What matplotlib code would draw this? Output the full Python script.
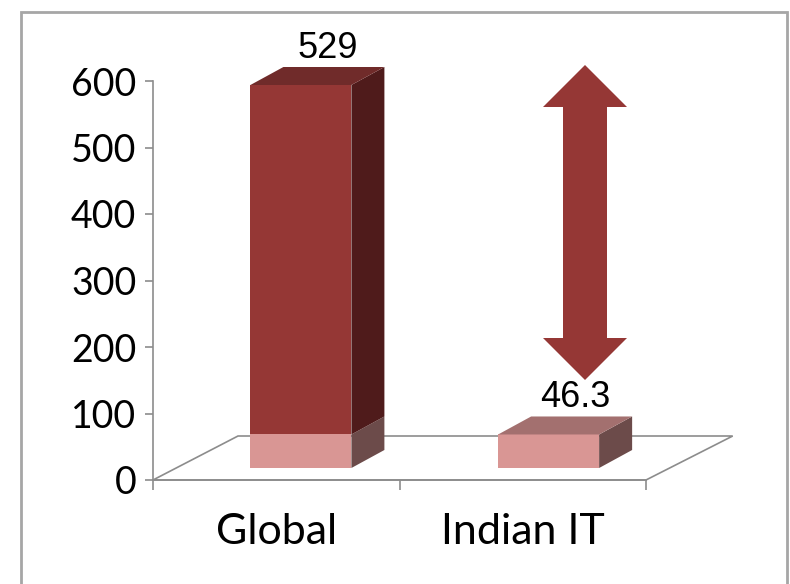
import matplotlib
matplotlib.use('Agg')
from matplotlib import pyplot as plt
from matplotlib.patches import Polygon, Rectangle

# data
categories = ['Global', 'Indian IT']
totals = [529, 46.3]
base_part = [46.3, 46.3]          # light (pink) lower segment, same for both bars
upper_part = [529 - 46.3, 0]      # dark segment stacked on top
y_ticks = [0, 100, 200, 300, 400, 500, 600]

# colours
front_dark = '#953735'
side_dark = '#4f1b1b'
top_dark = '#702b2a'
front_light = '#d99694'
side_light = '#6c4b4a'
top_light = '#a3706f'
grid_grey = '#8c8c8c'

W, H = 790, 584
fig = plt.figure(figsize=(W / 100, H / 100), dpi=100)

# axes box in pixels: x 153..646, y 480 (value 0) .. 81 (value 600)
left, right, bottom, top = 153, 646, 480, 81
pos = [left / W, 1 - bottom / H, (right - left) / W, (bottom - top) / H]
ax = fig.add_axes(pos)
ax.set_xlim(0, 2)
ax.set_ylim(0, 600)

# bars live on a second, invisible axes with the same box
bx = fig.add_axes(pos, sharex=ax)
bx.patch.set_visible(False)
bx.axis('off')
px_per_unit = 383 / 529
bar_base_px = 468
bx.set_ylim(-(bottom - bar_base_px) / px_per_unit, (bar_base_px - top) / px_per_unit)

x_unit = (right - left) / 2
ax_unit = 600 / (bottom - top)

# floor parallelogram
fdx = (238 - left) / x_unit
fdy = (bottom - 436) * ax_unit
floor = Polygon([(0, 0), (2, 0), (2 + fdx * 1.02, fdy), (fdx, fdy)], closed=True,
                facecolor='white', edgecolor=grid_grey, lw=1.2, clip_on=False, zorder=1)
ax.add_patch(floor)

# 3d bar helper
dx = 33 / x_unit
dy = 18 / px_per_unit
bar_w = 101 / x_unit
centers = [0.6, 1.605]


def box(x0, y0, y1, front, side, topc, draw_top):
    x1 = x0 + bar_w
    bx.add_patch(Polygon([(x0, y0), (x1, y0), (x1, y1), (x0, y1)],
                         facecolor=front, edgecolor='none', clip_on=False, zorder=3))
    bx.add_patch(Polygon([(x1, y0), (x1 + dx, y0 + dy), (x1 + dx, y1 + dy), (x1, y1)],
                         facecolor=side, edgecolor='none', clip_on=False, zorder=3))
    if draw_top:
        bx.add_patch(Polygon([(x0, y1), (x1, y1), (x1 + dx, y1 + dy), (x0 + dx, y1 + dy)],
                             facecolor=topc, edgecolor='none', clip_on=False, zorder=3))


for c, b, u, t in zip(centers, base_part, upper_part, totals):
    x0 = c - bar_w / 2
    box(x0, 0, b, front_light, side_light, top_light, u == 0)
    if u > 0:
        box(x0, b, b + u, front_dark, side_dark, top_dark, True)
    lab = f'{t:g}'
    bx.annotate(lab, (c + dx * 0.8, t + dy), xytext=(0, 1), textcoords='offset points',
                ha='center', va='bottom', fontsize=26, family='Liberation Sans',
                annotation_clip=False, zorder=5)

# double headed arrow between the two values
cx = (585 - left) / x_unit
hw = 42 / x_unit
sw = 22 / x_unit
ytop = (bottom - 65) * ax_unit
ybot = (bottom - 380) * ax_unit
hl = 42 * ax_unit
arrow = Polygon([(cx, ytop), (cx + hw, ytop - hl), (cx + sw, ytop - hl), (cx + sw, ybot + hl),
                 (cx + hw, ybot + hl), (cx, ybot), (cx - hw, ybot + hl), (cx - sw, ybot + hl),
                 (cx - sw, ytop - hl), (cx - hw, ytop - hl)], closed=True,
                facecolor=front_dark, edgecolor='none', clip_on=False, zorder=4)
ax.add_patch(arrow)

# axes styling
for s in ['top', 'right']:
    ax.spines[s].set_visible(False)
ax.spines['left'].set_color(grid_grey)
ax.spines['bottom'].set_color(grid_grey)
ax.spines['left'].set_linewidth(1.2)
ax.spines['bottom'].set_linewidth(1.2)
ax.patch.set_visible(False)
ax.set_yticks(y_ticks)
ax.set_yticklabels([str(v) for v in y_ticks], fontsize=27, family='Lato')
ax.set_xticks([0, 1, 2])
ax.set_xticklabels([])
ax.set_xticks([0.5, 1.5], minor=True)
ax.set_xticklabels(categories, minor=True, fontsize=31, family='Lato')
ax.tick_params(axis='y', length=6, width=1.2, color=grid_grey, pad=6)
ax.tick_params(axis='x', which='major', length=7, width=1.2, color=grid_grey, direction='out')
ax.tick_params(axis='x', which='minor', length=0, pad=24)

# outer frame
fig.patches.append(Rectangle((21 / W, -0.05), (787 - 21) / W, 1.05 - 12 / H,
                             transform=fig.transFigure, facecolor='none',
                             edgecolor='#a6a6a6', lw=2))

fig.savefig('out.png', dpi=100)
